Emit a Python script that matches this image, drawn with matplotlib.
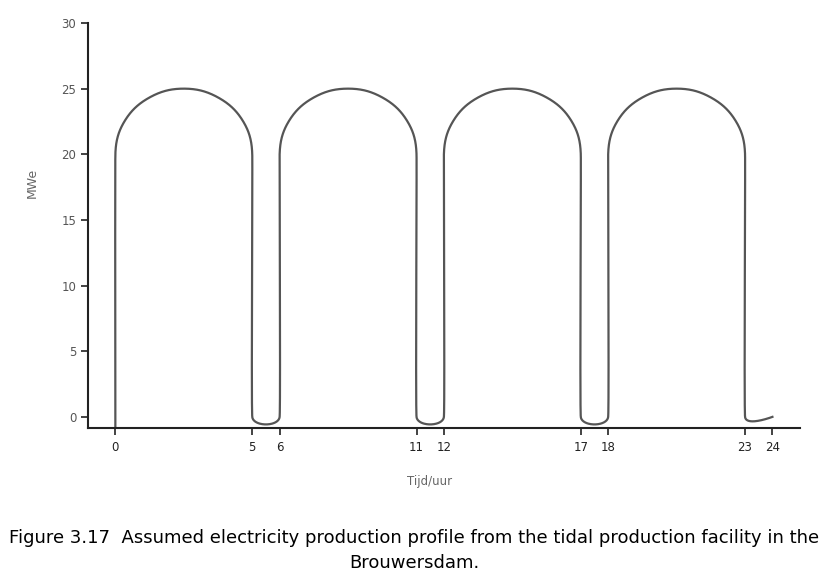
import numpy as np
import matplotlib.pyplot as plt

# Points of the production profile (hour, MWe)
hours = [0, 0, 0.33, 1.25, 2.5, 3.75, 4.67, 5, 5,
         6, 6, 6.33, 7.25, 8.5, 9.75, 10.67, 11, 11,
         12, 12, 12.33, 13.25, 14.5, 15.75, 16.67, 17, 17,
         18, 18, 18.33, 19.25, 20.5, 21.75, 22.67, 23, 23,
         24]
mwe = [-1, 20, 22.5, 24.33, 25, 24.33, 22.5, 20, 0,
       0, 20, 22.5, 24.33, 25, 24.33, 22.5, 20, 0,
       0, 20, 22.5, 24.33, 25, 24.33, 22.5, 20, 0,
       0, 20, 22.5, 24.33, 25, 24.33, 22.5, 20, 0,
       0]

tick_hours = [0, 5, 6, 11, 12, 17, 18, 23, 24]
y_ticks = [0, 5, 10, 15, 20, 25, 30]


def smooth(p, k=0.37, n=80):
    # smoothed line through the points: Bezier segments, handle direction
    # from the neighbours, handle length from the shorter adjacent segment
    p = np.vstack([p[0], p, p[-1]])
    out = []
    for i in range(1, len(p) - 2):
        p0, p1, p2, p3 = p[i - 1], p[i], p[i + 1], p[i + 2]
        d01 = np.linalg.norm(p1 - p0)
        d12 = np.linalg.norm(p2 - p1)
        d23 = np.linalg.norm(p3 - p2)
        u1 = (p2 - p0) / max(np.linalg.norm(p2 - p0), 1e-9)
        u2 = (p3 - p1) / max(np.linalg.norm(p3 - p1), 1e-9)
        c1 = p1 + u1 * k * min(d01, d12)
        c2 = p2 - u2 * k * min(d12, d23)
        t = np.linspace(0, 1, n)[:, None]
        seg = (1 - t) ** 3 * p1 + 3 * (1 - t) ** 2 * t * c1 + 3 * (1 - t) * t ** 2 * c2 + t ** 3 * p2
        out.append(seg)
    return np.vstack(out)


fig = plt.figure(figsize=(8.34, 5.81), dpi=100)
ax = fig.add_axes([0.1055, 0.2633, 0.8535, 0.6971])
ax.set_xlim(-1, 25)
ax.set_ylim(-0.85, 30)

pix = ax.transData.transform(np.column_stack([hours, mwe]))
curve = ax.transData.inverted().transform(smooth(pix))
ax.plot(curve[:, 0], curve[:, 1], color='#555555', lw=1.6)

ax.set_xticks(tick_hours)
ax.set_xticklabels([str(h) for h in tick_hours], fontsize=8.5, color='#222222')
ax.set_yticks(y_ticks)
ax.set_yticklabels([str(v) for v in y_ticks], fontsize=8.5, color='#555555')
ax.tick_params(axis='both', direction='out', length=5, width=1.2, color='#222222')
ax.tick_params(axis='x', pad=4)
for s in ['top', 'right']:
    ax.spines[s].set_visible(False)
for s in ['left', 'bottom']:
    ax.spines[s].set_linewidth(1.5)
    ax.spines[s].set_color('#222222')

fig.text(430 / 834, 1 - 482 / 581, 'Tijd/uur', ha='center', va='center', fontsize=8.5, color='#666666')
fig.text(32 / 834, 1 - 183 / 581, 'MWe', ha='center', va='center', rotation=90, fontsize=9, color='#666666')

fig.text(414 / 834, 1 - 538 / 581,
         'Figure 3.17  Assumed electricity production profile from the tidal production facility in the',
         ha='center', va='center', fontsize=13, family='DejaVu Sans')
fig.text(414 / 834, 1 - 563 / 581, 'Brouwersdam.', ha='center', va='center', fontsize=13, family='DejaVu Sans')

fig.savefig('out.png', dpi=100)
